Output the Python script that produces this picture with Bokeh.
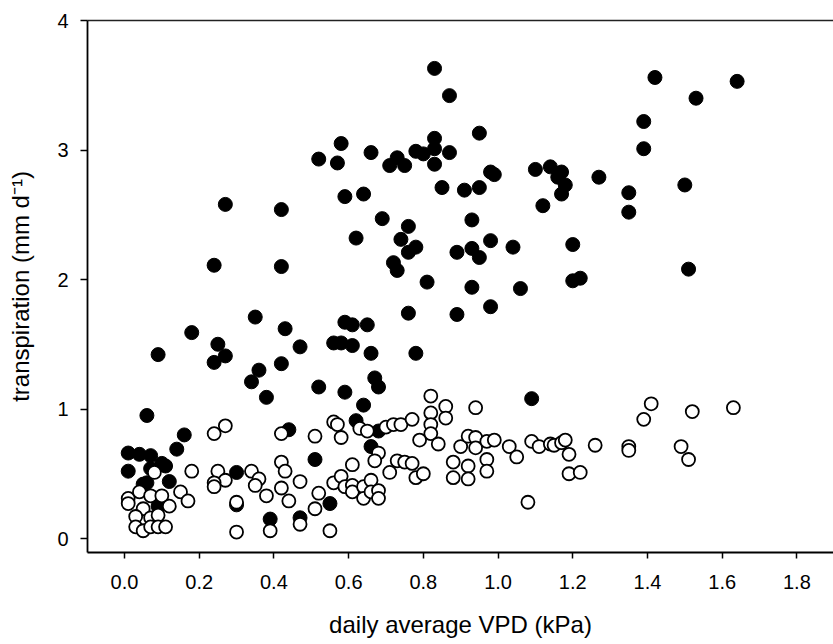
from bokeh.plotting import figure
from bokeh.models import Range1d, FixedTicker, PrintfTickFormatter, LinearAxis
from bokeh.embed import file_html
from bokeh.resources import INLINE

# ---- data ----
x_ticks = [0.0, 0.2, 0.4, 0.6, 0.8, 1.0, 1.2, 1.4, 1.6, 1.8]
y_ticks = [0, 1, 2, 3, 4]

filled_vpd = [0.58, 0.52, 0.57, 0.66, 0.73, 0.71, 0.75, 0.78, 0.80, 0.83,
              0.83, 0.83, 0.87, 0.83, 0.87, 0.95, 0.85, 0.91, 0.95, 0.98,
              0.99, 1.10, 1.14, 1.17, 1.16, 1.18, 1.17, 1.12, 1.27, 1.35,
              1.35, 1.42, 1.53, 1.64, 1.39, 1.39, 1.50, 0.93, 0.98, 1.04,
              0.89, 0.93, 0.95, 1.20, 0.78, 0.81, 0.93, 1.06, 0.89, 0.98,
              1.20, 1.22, 1.51, 0.78, 1.09, 0.27, 0.42, 0.59, 0.64, 0.69,
              0.76, 0.74, 0.76, 0.62, 0.72, 0.73, 0.24, 0.42, 0.35, 0.43,
              0.18, 0.25, 0.27, 0.24, 0.09, 0.47, 0.42, 0.36, 0.34, 0.38,
              0.59, 0.61, 0.65, 0.56, 0.58, 0.61, 0.66, 0.76, 0.67, 0.68,
              0.52, 0.59, 0.64, 0.06, 0.62, 0.44, 0.68, 0.66, 0.51, 0.16,
              0.14, 0.01, 0.04, 0.07, 0.11, 0.01, 0.07, 0.12, 0.05, 0.06,
              0.30, 0.55, 0.30, 0.39, 0.47, 0.09, 0.10, 0.10]
filled_transp = [3.05, 2.93, 2.90, 2.98, 2.94, 2.88, 2.88, 2.99, 2.97, 3.09,
                 3.01, 2.89, 2.98, 3.63, 3.42, 3.13, 2.71, 2.69, 2.71, 2.83,
                 2.81, 2.85, 2.87, 2.83, 2.79, 2.73, 2.66, 2.57, 2.79, 2.67,
                 2.52, 3.56, 3.40, 3.53, 3.22, 3.01, 2.73, 2.46, 2.30, 2.25,
                 2.21, 2.24, 2.17, 2.27, 2.25, 1.98, 1.94, 1.93, 1.73, 1.79,
                 1.99, 2.01, 2.08, 1.43, 1.08, 2.58, 2.54, 2.64, 2.66, 2.47,
                 2.41, 2.31, 2.21, 2.32, 2.13, 2.07, 2.11, 2.10, 1.71, 1.62,
                 1.59, 1.50, 1.41, 1.36, 1.42, 1.48, 1.35, 1.30, 1.21, 1.09,
                 1.67, 1.65, 1.65, 1.51, 1.51, 1.49, 1.43, 1.74, 1.24, 1.17,
                 1.17, 1.13, 1.03, 0.95, 0.91, 0.84, 0.83, 0.71, 0.61, 0.80,
                 0.69, 0.66, 0.65, 0.64, 0.56, 0.52, 0.54, 0.44, 0.42, 0.43,
                 0.51, 0.27, 0.26, 0.15, 0.16, 0.25, 0.27, 0.58]

open_vpd = [0.01, 0.01, 0.04, 0.07, 0.10, 0.12, 0.15, 0.17, 0.05, 0.03,
            0.07, 0.09, 0.03, 0.05, 0.07, 0.09, 0.11, 0.08, 0.18, 0.24,
            0.27, 0.25, 0.27, 0.24, 0.24, 0.30, 0.30, 0.34, 0.36, 0.35,
            0.38, 0.42, 0.43, 0.42, 0.44, 0.47, 0.52, 0.51, 0.39, 0.47,
            0.55, 0.42, 0.51, 0.56, 0.57, 0.58, 0.63, 0.65, 0.70, 0.72,
            0.74, 0.77, 0.82, 0.86, 0.94, 0.82, 0.86, 0.82, 0.82, 0.79,
            0.84, 0.68, 0.67, 0.61, 0.73, 0.75, 0.77, 0.71, 0.78, 0.80,
            0.90, 0.92, 0.94, 0.97, 0.99, 0.94, 0.88, 0.92, 0.97, 0.97,
            0.88, 0.92, 0.56, 0.58, 0.59, 0.61, 0.61, 0.64, 0.66, 0.64,
            0.66, 0.68, 0.68, 1.03, 1.05, 1.09, 1.11, 1.14, 1.15, 1.17,
            1.18, 1.19, 1.26, 1.19, 1.22, 1.08, 1.41, 1.39, 1.52, 1.63,
            1.35, 1.35, 1.49, 1.51]
open_transp = [0.31, 0.27, 0.36, 0.33, 0.33, 0.25, 0.36, 0.29, 0.23, 0.17,
               0.16, 0.18, 0.09, 0.06, 0.09, 0.09, 0.09, 0.51, 0.52, 0.81,
               0.87, 0.52, 0.45, 0.43, 0.40, 0.28, 0.05, 0.52, 0.46, 0.41,
               0.33, 0.59, 0.52, 0.39, 0.29, 0.44, 0.35, 0.23, 0.06, 0.11,
               0.06, 0.81, 0.79, 0.90, 0.88, 0.78, 0.85, 0.83, 0.86, 0.88,
               0.88, 0.92, 1.10, 1.02, 1.01, 0.97, 0.93, 0.88, 0.81, 0.76,
               0.73, 0.66, 0.60, 0.57, 0.60, 0.59, 0.58, 0.51, 0.47, 0.50,
               0.71, 0.79, 0.78, 0.75, 0.76, 0.70, 0.59, 0.56, 0.61, 0.52,
               0.47, 0.46, 0.43, 0.48, 0.40, 0.41, 0.36, 0.40, 0.45, 0.31,
               0.36, 0.37, 0.31, 0.71, 0.63, 0.75, 0.71, 0.73, 0.72, 0.74,
               0.76, 0.65, 0.72, 0.50, 0.51, 0.28, 1.04, 0.92, 0.98, 1.01,
               0.71, 0.68, 0.71, 0.61]

FONT = "Liberation Sans"

p = figure(width=833, height=644, output_backend="svg", toolbar_location=None,
           x_range=Range1d(-0.099, 1.898), y_range=Range1d(-0.108, 4.0),
           min_border_left=87, min_border_right=0, min_border_top=20,
           min_border_bottom=92)
p.grid.visible = False
p.outline_line_color = None
p.background_fill_color = "white"
p.border_fill_color = "white"

xa = p.below[0]
ya = p.left[0]
xa.ticker = FixedTicker(ticks=x_ticks)
xa.formatter = PrintfTickFormatter(format="%.1f")
ya.ticker = FixedTicker(ticks=y_ticks)

for ax in (xa, ya):
    ax.axis_line_width = 1.8
    ax.axis_line_color = "black"
    ax.major_tick_line_width = 1.5
    ax.major_tick_line_color = "black"
    ax.minor_tick_line_color = None
    ax.major_tick_in = 0
    ax.major_label_text_font = FONT
    ax.major_label_text_font_size = "20px"
    ax.major_label_text_color = "black"
    ax.axis_label_text_font = FONT
    ax.axis_label_text_font_size = "24px"
    ax.axis_label_text_font_style = "normal"
    ax.axis_label_text_color = "black"

xa.major_tick_out = 6
xa.major_label_standoff = 16
xa.axis_label = "daily average VPD (kPa)"
xa.axis_label_standoff = 19

ya.major_tick_out = 7
ya.major_label_standoff = 12
ya.axis_label = "transpiration (mm d\u207b\u00b9)"
ya.axis_label_standoff = 20

# top frame line (no ticks, no labels)
top = LinearAxis(ticker=FixedTicker(ticks=[]), major_tick_line_color=None,
                 minor_tick_line_color=None, major_label_text_font_size="0px",
                 axis_line_width=1.5, axis_line_color="#222222")
p.add_layout(top, "above")

p.scatter(x=filled_vpd, y=filled_transp, size=14, marker="circle",
          fill_color="black", line_color="black", line_width=1)
p.scatter(x=open_vpd, y=open_transp, size=13, marker="circle",
          fill_color="white", line_color="black", line_width=1.8)

open("out.html", "w").write(file_html(p, INLINE))
